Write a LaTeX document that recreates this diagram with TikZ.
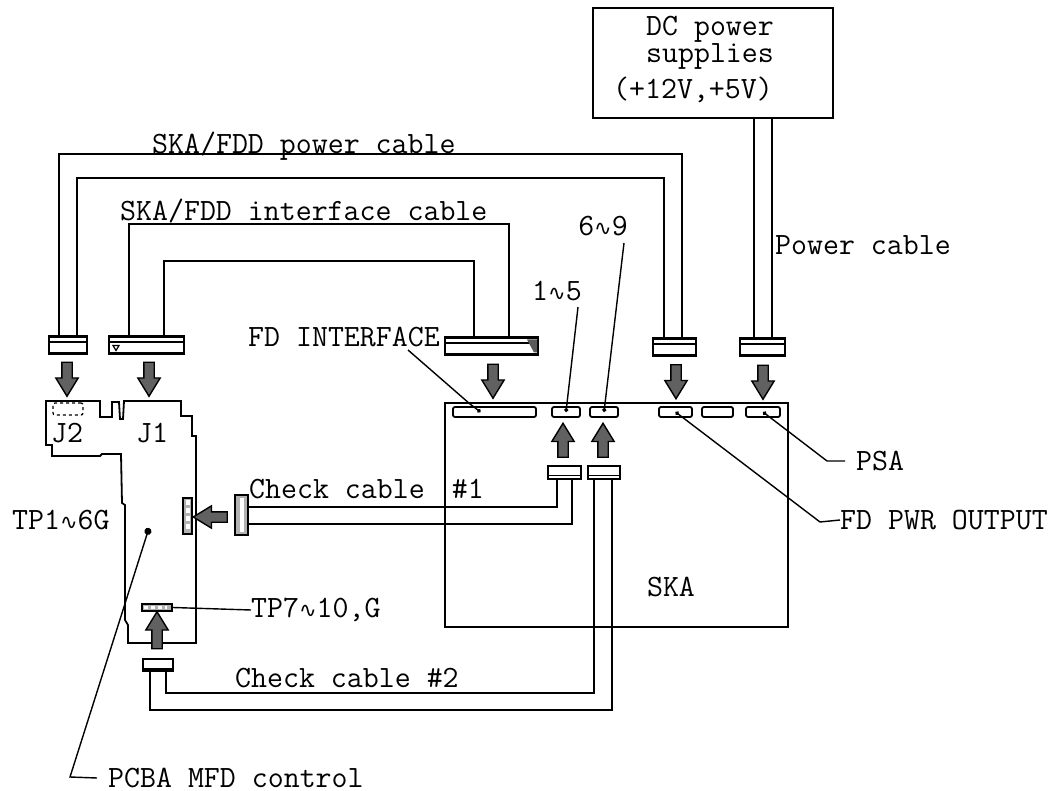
\documentclass[tikz,border=0pt]{standalone}
\usepackage{fontspec}
\usepackage{tikz}
\usetikzlibrary{arrows.meta, shapes.arrows}
\newfontfamily\wavefont{DejaVu Sans}
\newcommand{\wave}{{\wavefont\fontsize{21}{23}\selectfont ∿}}

\tikzset{
  wire/.style = {line width=1.7pt},
  leader/.style = {line width=1.4pt},
  label/.style = {inner sep=0pt, font=\ttfamily\addfontfeature{FakeBold=1.6}\fontsize{31}{25}\selectfont},
  plug/.style = {draw, line width=2.4pt, fill=white, inner sep=0pt, outer sep=0pt,
    minimum width=#1, minimum height=17pt},
  band/.style = {path picture={\draw[line width=1.8pt]
    ([yshift=#1]path picture bounding box.west) -- ([yshift=#1]path picture bounding box.east);}},
  port/.style = {draw, line width=1.8pt, rounded corners=2pt, inner sep=0pt, outer sep=0pt,
    minimum width=#1, minimum height=10pt},
  flow/.style = {draw, line width=1.4pt, fill=black!62, shape=single arrow, inner sep=4.5pt, outer sep=0pt,
    minimum height=34pt, minimum width=21pt, single arrow head extend=6pt,
    single arrow tip angle=63, shape border rotate=#1}
}

\begin{document}
\begin{tikzpicture}[x=1pt, y=-1pt]
    \useasboundingbox (0,0) rectangle (1055,791);

    % units
    \node[draw, line width=2pt, minimum width=240pt, minimum height=110pt, inner sep=0pt] (dcbox) at (713,63) {};
    \node[draw, line width=2pt, minimum width=343pt, minimum height=224pt, inner sep=0pt] (ska) at (616.5,515) {};
    \draw[line width=1.8pt] (46,401) -- (100,401) -- (100,417) -- (112,417) -- (112,402) -- (119,402)
      -- (120,419) -- (123,419) -- (124,401) -- (181,401) -- (181,416) -- (192,416) -- (192,436) -- (196,436)
      -- (196,643) -- (128,643) -- (128,625) -- (125,620) -- (125,505) -- (122,503) -- (121,454) -- (102,454)
      -- (100,456) -- (52,456) -- (52,445) -- (46,445) -- cycle;

    % ports on SKA
    \node[port=83pt] (fdport) at (494.5,412) {};
    \node[port=28pt] (oneport) at (566,412) {};
    \node[port=28pt] (sixport) at (604,412) {};
    \node[port=33pt] (pwrport) at (675.5,412) {};
    \node[port=31pt] (midport) at (717.5,412) {};
    \node[port=34pt] (psaport) at (763,412) {};

    % parts on the board
    \node[draw, dashed, line width=1.3pt, rounded corners=2pt, minimum width=30pt, minimum height=12pt, inner sep=0pt] (jtwo) at (68,409) {};
    \node[draw, line width=1.6pt, fill=gray!60, minimum width=9pt, minimum height=36pt, inner sep=0pt] (tpa) at (187.5,516) {};
    \node[draw, line width=1.6pt, fill=gray!60, minimum width=30pt, minimum height=7pt, inner sep=0pt] (tpb) at (157,607.5) {};
    \draw[white, line width=3pt, dash pattern=on 4pt off 3pt] ([xshift=3pt]tpb.west) -- ([xshift=-6pt]tpb.east);
    \draw[white, line width=4pt, dash pattern=on 5pt off 3pt] ([yshift=-3pt]tpa.north) -- ([yshift=3pt]tpa.south);

    % plugs
    \node[plug=38pt, band=3pt] (pwrleft) at (68,345) {};
    \node[plug=75pt, band=3pt] (ifleft) at (146.5,345) {};
    \node[plug=93pt, band=3pt] (ifright) at (491.5,346) {};
    \node[plug=43pt, band=3pt] (pwrright) at (674.5,347) {};
    \node[plug=45pt, band=3pt] (psu) at (762.5,347) {};
    \node[plug=33pt, minimum height=13pt, band=-3pt] (chkone) at (564.5,472.5) {};
    \node[plug=32pt, minimum height=13pt, band=-3pt] (chktwo) at (604,472.5) {};
    \node[plug=13pt, minimum height=40pt, fill=gray!60] (chkleft) at (241.5,515) {};
    \node[plug=30pt, minimum height=12pt, band=-4pt] (chkbot) at (158,665) {};
    \draw[white, line width=4pt] ([yshift=-3pt]chkleft.north) -- ([yshift=3pt]chkleft.south);
    \draw[line width=1.2pt] ([xshift=4pt,yshift=8pt]ifleft.south west) -- ++(6,0) -- ++(-3,5) -- cycle;
    \fill[black!65] ([xshift=-11pt,yshift=-2pt]ifright.north east) -- ([xshift=-1pt,yshift=-2pt]ifright.north east)
      -- ([xshift=-1pt,yshift=2pt]ifright.south east) -- ([xshift=-4pt,yshift=2pt]ifright.south east) -- cycle;

    % cables
    \coordinate (pwrouter) at (0,154);
    \coordinate (pwrinner) at (0,178);
    \coordinate (ifouter) at (0,224);
    \coordinate (ifinner) at (0,261);
    \coordinate (pwrla) at ([xshift=10pt]pwrleft.north west);
    \coordinate (pwrlb) at ([xshift=28pt]pwrleft.north west);
    \coordinate (pwrra) at ([xshift=11pt]pwrright.north west);
    \coordinate (pwrrb) at ([xshift=29pt]pwrright.north west);
    \coordinate (ifla) at ([xshift=20pt]ifleft.north west);
    \coordinate (iflb) at ([xshift=55pt]ifleft.north west);
    \coordinate (ifra) at ([xshift=29pt]ifright.north west);
    \coordinate (ifrb) at ([xshift=64pt]ifright.north west);
    \coordinate (psua) at ([xshift=14pt]psu.north west);
    \coordinate (psub) at ([xshift=32pt]psu.north west);
    \draw[wire] (pwrla) -- (pwrla |- pwrouter) -- (pwrrb |- pwrouter) -- (pwrrb);
    \draw[wire] (pwrlb) -- (pwrlb |- pwrinner) -- (pwrra |- pwrinner) -- (pwrra);
    \draw[wire] (ifla) -- (ifla |- ifouter) -- (ifrb |- ifouter) -- (ifrb);
    \draw[wire] (iflb) -- (iflb |- ifinner) -- (ifra |- ifinner) -- (ifra);
    \draw[wire] (psua) -- (psua |- dcbox.south) (psub) -- (psub |- dcbox.south);

    \coordinate (onea) at ([xshift=9pt]chkone.south west);
    \coordinate (oneb) at ([xshift=24pt]chkone.south west);
    \coordinate (twoa) at ([xshift=6pt]chktwo.south west);
    \coordinate (twob) at ([xshift=24pt]chktwo.south west);
    \coordinate (lefta) at ([yshift=-12pt]chkleft.north east);
    \coordinate (leftb) at ([yshift=-29pt]chkleft.north east);
    \coordinate (bota) at ([xshift=7pt]chkbot.south west);
    \coordinate (botb) at ([xshift=23pt]chkbot.south west);
    \coordinate (chkinner) at (0,693);
    \coordinate (chkouter) at (0,710);
    \draw[wire] (lefta) -- (lefta -| onea) -- (onea);
    \draw[wire] (leftb) -- (leftb -| oneb) -- (oneb);
    \draw[wire] (botb) -- (botb |- chkinner) -- (twoa |- chkinner) -- (twoa);
    \draw[wire] (bota) -- (bota |- chkouter) -- (twob |- chkouter) -- (twob);

    % arrows
    \node[flow=270] (arra) at (67,375) {};
    \node[flow=270] (arrb) at (149,375) {};
    \node[flow=270] (arrc) at (493,377) {};
    \node[flow=270] (arrd) at (676,377.5) {};
    \node[flow=270] (arre) at (763,378) {};
    \node[flow=90] (arrf) at (563,444.5) {};
    \node[flow=90] (arrg) at (603,444.5) {};
    \node[flow=180] (arrh) at (214.5,517) {};
    \node[flow=90, minimum height=37pt] (arri) at (157,634.5) {};

    % labels
    \node[label, align=center] (dctext) at (710,43) {DC power\\supplies};
    \node[label] (volts) at (693,90) {(+12V,+5V)};
    \node[label, anchor=west] (pwrtext) at (152,146) {SKA/FDD power cable};
    \node[label, anchor=west] (iftext) at (120,211) {SKA/FDD interface cable};
    \node[label, anchor=west] (cabletext) at (775,245) {Power cable};
    \node[label] (onefive) at (557,291) {1\wave 5};
    \node[label] (sixnine) at (603,226) {6\wave 9};
    \node[label, anchor=west] (fdtext) at (248,337) {FD INTERFACE};
    \node[label] (jtwotext) at (67,433) {J2};
    \node[label] (jonetext) at (152,433) {J1};
    \node[label, anchor=west] (psatext) at (856,461) {PSA};
    \node[label, anchor=west] (pwrout) at (840,520) {FD PWR OUTPUT};
    \node[label, anchor=west] (chkonetext) at (249,489) {Check cable\hspace{27pt}\#1};
    \node[label, anchor=west] (tpone) at (12,520) {TP1\wave 6G};
    \node[label, anchor=west] (tpseven) at (251,610) {TP7\wave 10,G};
    \node[label] (skatext) at (671,587) {SKA};
    \node[label, anchor=west] (chktwotext) at (235,678) {Check cable \#2};
    \node[label, anchor=west] (pcba) at (108,778) {PCBA MFD control};

    % leaders
    \coordinate (onetop) at (578,307);
    \coordinate (sixtop) at (624,243);
    \coordinate (fdstart) at (408,350);
    \coordinate (fdbend) at (470,404);
    \coordinate (pwrbend) at (820,522);
    \coordinate (psabend) at (827,461);
    \coordinate (boardpin) at (149,528);
    \coordinate (pcbabend) at (70,777);
    \draw[leader, -{Circle[length=4pt]}] (onetop) -- (oneport.center);
    \draw[leader, -{Circle[length=4pt]}] (sixtop) -- (sixport.center);
    \draw[leader, -{Circle[length=4pt]}] (fdstart) -- (fdbend) -- ([xshift=-14pt]fdport.center);
    \draw[leader, -{Circle[length=4pt]}] (pwrout.west) -- (pwrbend) -- (pwrport.center);
    \draw[leader, -{Circle[length=4pt]}] ([xshift=-11pt]psatext.west) -- (psabend) -- (psaport.center);
    \draw[leader, -{Circle[length=7pt]}] ([xshift=-11pt]pcba.west) -- (pcbabend) -- (boardpin);
    \draw[leader] (tpb.east) -- (tpseven.west);
  \end{tikzpicture}
\end{document}
